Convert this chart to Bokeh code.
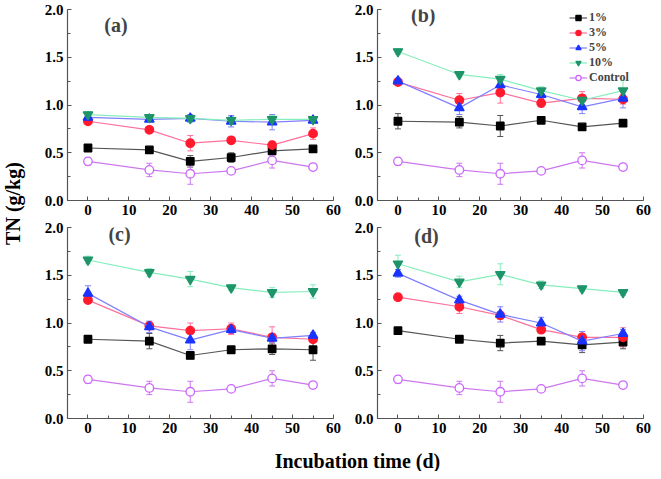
import math
from bokeh.plotting import figure
from bokeh.layouts import row, column
from bokeh.models import (Range1d, ColumnDataSource, Whisker, TeeHead, Label, Legend,
                          LegendItem, SingleIntervalTicker, PrintfTickFormatter)
from bokeh.core.properties import value
from bokeh.embed import file_html
from bokeh.resources import INLINE

# ---------------- data ----------------
days = [0, 15, 25, 35, 45, 55]
series_names = ["1%", "3%", "5%", "10%", "Control"]

control_tn = [0.41, 0.32, 0.28, 0.31, 0.42, 0.35]
control_err = [0.04, 0.07, 0.11, 0.02, 0.08, 0.02]

a_1 = [0.55, 0.53, 0.41, 0.45, 0.52, 0.54]
a_3 = [0.83, 0.74, 0.60, 0.63, 0.58, 0.70]
a_5 = [0.87, 0.85, 0.86, 0.83, 0.82, 0.84]
a_10 = [0.90, 0.87, 0.86, 0.84, 0.85, 0.85]
a_1_err = [0.02, 0.03, 0.06, 0.05, 0.04, 0.02]
a_3_err = [0.03, 0.03, 0.08, 0.03, 0.04, 0.06]
a_5_err = [0.02, 0.02, 0.04, 0.06, 0.08, 0.03]
a_10_err = [0.03, 0.03, 0.03, 0.04, 0.04, 0.03]

b_1 = [0.83, 0.82, 0.78, 0.84, 0.77, 0.81]
b_3 = [1.24, 1.05, 1.13, 1.02, 1.07, 1.06]
b_5 = [1.25, 0.97, 1.21, 1.11, 0.98, 1.07]
b_10 = [1.56, 1.32, 1.27, 1.15, 1.05, 1.15]
b_1_err = [0.08, 0.06, 0.11, 0.02, 0.02, 0.02]
b_3_err = [0.03, 0.07, 0.11, 0.04, 0.07, 0.05]
b_5_err = [0.03, 0.07, 0.04, 0.04, 0.07, 0.10]
b_10_err = [0.03, 0.03, 0.05, 0.04, 0.05, 0.11]

c_1 = [0.83, 0.81, 0.66, 0.72, 0.73, 0.72]
c_3 = [1.24, 0.97, 0.92, 0.94, 0.85, 0.83]
c_5 = [1.31, 0.96, 0.82, 0.93, 0.84, 0.87]
c_10 = [1.66, 1.53, 1.46, 1.37, 1.32, 1.33]
c_1_err = [0.02, 0.08, 0.03, 0.03, 0.06, 0.11]
c_3_err = [0.02, 0.03, 0.08, 0.06, 0.11, 0.03]
c_5_err = [0.08, 0.06, 0.10, 0.04, 0.04, 0.03]
c_10_err = [0.04, 0.04, 0.08, 0.03, 0.05, 0.07]

d_1 = [0.92, 0.83, 0.79, 0.81, 0.77, 0.80]
d_3 = [1.27, 1.17, 1.08, 0.93, 0.85, 0.85]
d_5 = [1.52, 1.24, 1.09, 1.00, 0.81, 0.89]
d_10 = [1.62, 1.43, 1.51, 1.40, 1.36, 1.32]
d_1_err = [0.02, 0.02, 0.08, 0.03, 0.08, 0.07]
d_3_err = [0.02, 0.07, 0.04, 0.03, 0.06, 0.10]
d_5_err = [0.04, 0.04, 0.08, 0.06, 0.10, 0.04]
d_10_err = [0.09, 0.06, 0.11, 0.04, 0.03, 0.03]

panel_labels = ["(a)", "(b)", "(c)", "(d)"]
panel_label_pos = [(4.0, 1.84), (3.2, 1.94), (5.0, 1.93), (4.0, 1.91)]

# ---------------- styles ----------------
FONT = "Liberation Serif"
styles = {
    "1%": dict(marker="square", size=7.5, mcolor="#000000", fill="#000000", lcolor="#555555", ecolor="#555555"),
    "3%": dict(marker="circle", size=8.5, mcolor="#ff1a2e", fill="#ff1a2e", lcolor="#ff6f9a", ecolor="#ff6f9a"),
    "5%": dict(marker="triangle", size=9.5, mcolor="#1a33ff", fill="#1a33ff", lcolor="#8080ff", ecolor="#8080ff"),
    "10%": dict(marker="inverted_triangle", size=9.5, mcolor="#1f946a", fill="#1f946a", lcolor="#86eebb", ecolor="#86eebb"),
    "Control": dict(marker="circle", size=8.5, mcolor="#cc66ff", fill="#ffffff", lcolor="#cc77ee", ecolor="#cc77ee"),
}
AXIS_COLOR = "#555555"
FRAME_H = 191


def make_panel(vals, errs, label, lpos, width, bl, br, bt, bb, legend=False):
    p = figure(width=width, height=bt + FRAME_H + bb, output_backend="svg", toolbar_location=None,
               x_range=Range1d(-5, 60), y_range=Range1d(0, 2.0),
               min_border_left=bl, min_border_right=br, min_border_top=bt, min_border_bottom=bb)
    p.outline_line_color = None
    p.grid.visible = False
    p.background_fill_color = "white"
    p.xaxis.ticker = SingleIntervalTicker(interval=10, num_minor_ticks=2)
    p.yaxis.ticker = SingleIntervalTicker(interval=0.5, num_minor_ticks=2)
    p.yaxis.formatter = PrintfTickFormatter(format="%.1f")
    for ax in (p.xaxis[0], p.yaxis[0]):
        ax.axis_line_color = AXIS_COLOR
        ax.axis_line_width = 1.2
        ax.major_tick_line_color = AXIS_COLOR
        ax.minor_tick_line_color = AXIS_COLOR
        ax.major_tick_in = 4
        ax.major_tick_out = 0
        ax.minor_tick_in = 3
        ax.minor_tick_out = 0
        ax.major_label_text_font = FONT
        ax.major_label_text_font_style = "bold"
        ax.major_label_text_font_size = "15px"
        ax.major_label_text_color = "#000000"
        ax.major_label_standoff = 4
    items = []
    for name, v, e in zip(series_names, vals, errs):
        st = styles[name]
        src = ColumnDataSource(dict(x=days, y=v,
                                    lo=[a - b for a, b in zip(v, e)],
                                    hi=[a + b for a, b in zip(v, e)]))
        lr = p.line("x", "y", source=src, line_color=st["lcolor"], line_width=1.2)
        w = Whisker(base="x", lower="lo", upper="hi", source=src, line_color=st["ecolor"], line_width=1,
                    upper_head=TeeHead(size=6, line_color=st["ecolor"], line_width=1),
                    lower_head=TeeHead(size=6, line_color=st["ecolor"], line_width=1))
        p.add_layout(w)
        mr = p.scatter("x", "y", source=src, marker=st["marker"], size=st["size"],
                       line_color=st["mcolor"], fill_color=st["fill"], line_width=1.3)
        items.append(LegendItem(label=name, renderers=[lr, mr]))
    p.add_layout(Label(x=lpos[0], y=lpos[1], text=label, text_font=FONT, text_font_style="bold",
                       text_font_size="20px", text_baseline="middle", text_align="left"))
    if legend:
        lg = Legend(items=items, location=(192, 115), background_fill_alpha=0, border_line_color=None,
                    padding=0, margin=0, spacing=0, glyph_width=18, glyph_height=13, label_height=13,
                    label_standoff=2, label_text_font=FONT, label_text_font_style="bold",
                    label_text_font_size="12px")
        p.add_layout(lg)
    return p


# widths: yt 34 | panel-left 313 | panel-right 306  -> 653
pa = make_panel([a_1, a_3, a_5, a_10, control_tn], [a_1_err, a_3_err, a_5_err, a_10_err, control_err],
                panel_labels[0], panel_label_pos[0], 313, 33, 14, 9, 19)
pb = make_panel([b_1, b_3, b_5, b_10, control_tn], [b_1_err, b_3_err, b_5_err, b_10_err, control_err],
                panel_labels[1], panel_label_pos[1], 306, 30, 10, 9, 19, legend=True)
pc = make_panel([c_1, c_3, c_5, c_10, control_tn], [c_1_err, c_3_err, c_5_err, c_10_err, control_err],
                panel_labels[2], panel_label_pos[2], 313, 33, 14, 8, 20)
pd = make_panel([d_1, d_3, d_5, d_10, control_tn], [d_1_err, d_3_err, d_5_err, d_10_err, control_err],
                panel_labels[3], panel_label_pos[3], 306, 30, 10, 8, 20)


def text_fig(w, h):
    f = figure(width=w, height=h, output_backend="svg", toolbar_location=None,
               x_range=Range1d(0, w), y_range=Range1d(0, h),
               x_axis_location=None, y_axis_location=None, min_border=0)
    f.outline_line_color = None
    f.grid.visible = False
    return f


yt = text_fig(34, 438)
yt.text(x=[12], y=[235], text=["TN (g/kg)"], angle=math.pi / 2, text_font=value(FONT),
        text_font_style="bold", text_font_size="20px", text_align="center", text_baseline="middle")

xt = text_fig(653, 33)
xt.text(x=[357], y=[11], text=["Incubation time (d)"], text_font=value(FONT),
        text_font_style="bold", text_font_size="20px", text_align="center", text_baseline="middle")

layout = column(row(yt, column(row(pa, pb), row(pc, pd))), xt)

open("out.html", "w").write(file_html(layout, INLINE))
